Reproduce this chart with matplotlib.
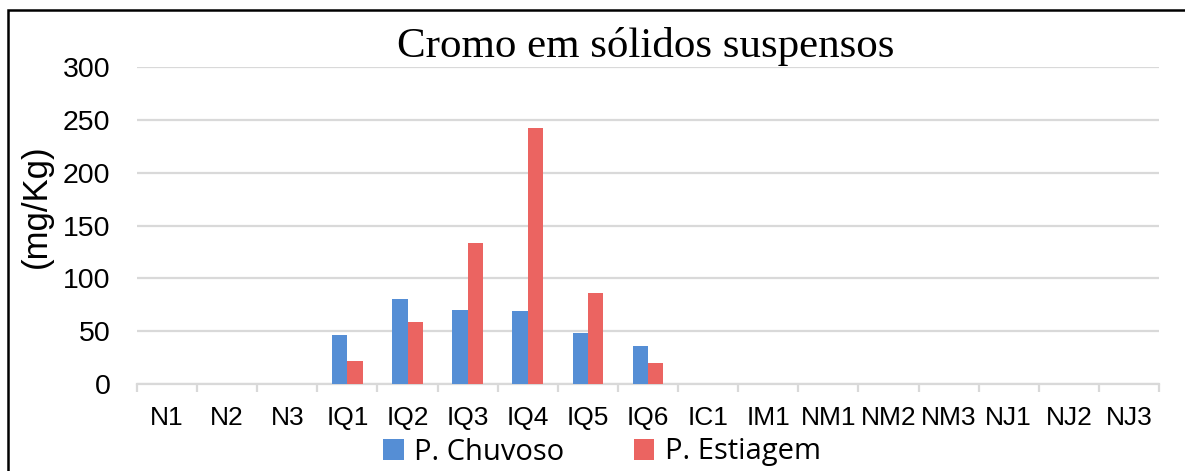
import matplotlib
matplotlib.use("Agg")
import matplotlib.pyplot as plt
import numpy as np
from matplotlib.patches import Rectangle

stations = ["N1", "N2", "N3", "IQ1", "IQ2", "IQ3", "IQ4", "IQ5", "IQ6",
            "IC1", "IM1", "NM1", "NM2", "NM3", "NJ1", "NJ2", "NJ3"]
chuvoso = [0, 0, 0, 46.5, 80.5, 70.5, 69.5, 48, 35.5, 0, 0, 0, 0, 0, 0, 0, 0]
estiagem = [0, 0, 0, 22, 59, 133.5, 242, 86, 19.5, 0, 0, 0, 0, 0, 0, 0, 0]

BLUE = "#558ED5"
RED = "#EB6461"
GRID = "#D9D9D9"

W, H = 1185, 471
fig = plt.figure(figsize=(W / 100, H / 100), dpi=100)
ax = fig.add_axes([137 / W, 1 - 384 / H, (1159 - 137) / W, (384 - 67) / H])

x = np.arange(len(stations))
bw = 0.255
ax.bar(x - bw / 2, chuvoso, bw, color=BLUE, label="P. Chuvoso", zorder=3)
ax.bar(x + bw / 2, estiagem, bw, color=RED, label="P. Estiagem", zorder=3)

ax.set_xlim(-0.5, len(stations) - 0.5)
ax.set_ylim(0, 300)
ax.set_yticks(range(0, 301, 50))
ax.yaxis.grid(True, color=GRID, linewidth=1.6, zorder=0)
ax.set_axisbelow(True)
for s in ["top", "right", "left"]:
    ax.spines[s].set_visible(False)
ax.spines["bottom"].set_color(GRID)
ax.spines["bottom"].set_linewidth(1.6)

ax.set_xticks(x)
ax.set_xticklabels(stations, family="Liberation Sans", fontsize=19)
ax.set_xticks(np.arange(-0.5, len(stations), 1), minor=True)
ax.tick_params(axis="x", which="major", length=0, pad=16)
ax.tick_params(axis="x", which="minor", length=6, width=1.6, color=GRID)
ax.tick_params(axis="y", length=0, pad=19, labelsize=20.5)
for lab in ax.get_yticklabels():
    lab.set_family("Liberation Sans")

fig.text(646 / W, 1 - 47 / H, "Cromo em sólidos suspensos",
         family="Liberation Serif", fontsize=31, ha="center", va="center")
fig.text(36 / W, 1 - 206 / H, "(mg/Kg)", family="Liberation Sans",
         fontsize=25, rotation=90, ha="center", va="center")

fig.legend(loc="center", bbox_to_anchor=(602 / W, 1 - 452 / H), ncol=2,
           frameon=False, prop={"family": "Open Sans", "size": 21},
           handlelength=0.7, handleheight=0.7, handletextpad=0.35,
           columnspacing=2.4)

fig.patches.append(Rectangle((8 / W, -0.1), 2, 1 - 10 / H + 0.1,
                             transform=fig.transFigure, fill=False,
                             edgecolor="black", linewidth=1.8))

fig.savefig("out.png", dpi=100)
